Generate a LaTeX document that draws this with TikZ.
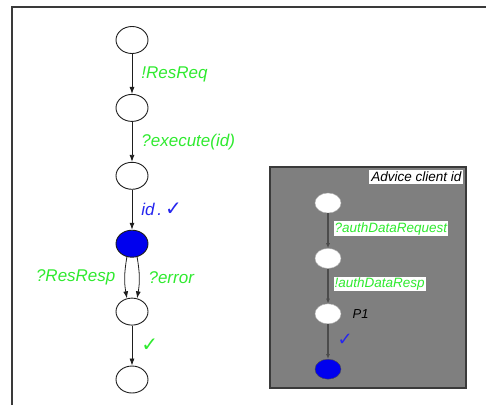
\documentclass[tikz,border=0pt]{standalone}
\usepackage{fontspec}
\setmainfont{Liberation Sans}
\newfontfamily\symfont{DejaVu Sans}
\usetikzlibrary{arrows.meta,positioning,shapes.geometric}
\definecolor{ink}{HTML}{1E1E1E}
\definecolor{act}{HTML}{2FEA2F}
\definecolor{tickblue}{HTML}{2626EE}
\definecolor{final}{HTML}{0000EE}
\definecolor{panelgray}{HTML}{7F7F7F}
\definecolor{frame}{HTML}{3A3A3A}
\newcommand{\chk}{{\symfont ✓}}
\tikzset{
  >=Latex,
  state/.style={ellipse,draw=ink,line width=0.9pt,fill=white,minimum width=32pt,minimum height=27pt,inner sep=0pt},
  donestate/.style={state,fill=final},
  substate/.style={ellipse,draw=panelgray!60,fill=white,minimum width=26pt,minimum height=20pt,inner sep=0pt},
  subdone/.style={substate,fill=final,draw=ink!80},
  arrow/.style={-{Latex[length=7pt,width=5pt]},line width=0.8pt,draw=ink},
  subarrow/.style={-{Latex[length=5pt,width=4pt]},line width=1.1pt,draw=ink!80},
  lbl/.style={font=\fontsize{17}{19}\selectfont\itshape,text=act,inner sep=1pt},
  sublbl/.style={font=\fontsize{13.5}{15}\selectfont\itshape,text=act,fill=white,inner sep=1pt},
  panel/.style={draw=frame,line width=1.2pt,fill=panelgray},
}

\begin{document}
\begin{tikzpicture}[x=1pt,y=-1pt,node distance=40pt]
\useasboundingbox (0,0) rectangle (486,405);
% open frame round the page
\draw[frame,line width=1.2pt] (12,405) -- (12,7) -- (486,7);

% main chain
\node[state] (s0) at (132,40) {};
\node[state,below=of s0] (s1) {};
\node[state,below=of s1] (s2) {};
\node[donestate,below=of s2] (s3) {};
\node[state,below=of s3] (s4) {};
\node[state,below=of s4] (s5) {};

\draw[arrow] (s0) -- node[lbl,right=8pt] {!ResReq} (s1);
\draw[arrow] (s1) -- node[lbl,right=8pt] {?execute(id)} (s2);
\draw[arrow] (s2) -- node[lbl,right=8pt,text=tickblue] {id\,.\,{\fontsize{20}{20}\selectfont\chk}} (s3);
\draw[arrow] (s3.-111) to[out=-100,in=100] node[lbl,left=8pt] {?ResResp} (s4.111);
\draw[arrow] (s3.-69) to[out=-80,in=80] node[lbl,right=8pt] {?error} (s4.69);
\draw[arrow] (s4) -- node[lbl,right=8pt,font=\fontsize{20}{20}\selectfont] {\chk} (s5);

% advice panel
\node[panel,minimum width=196pt,minimum height=221pt,inner sep=0pt] (adv) at (368,277.5) {};
\node[fill=white,inner xsep=2pt,inner ysep=2pt,font=\fontsize{13.5}{15}\selectfont\itshape,below left=3pt and 3pt of adv.north east] (title) {Advice client id};

\node[substate] (a0) at (328,203) {};
\node[substate,below=35pt of a0] (a1) {};
\node[substate,below=35pt of a1] (a2) {};
\node[subdone,below=35pt of a2] (a3) {};
\node[right=8pt of a2,font=\fontsize{13}{15}\selectfont\itshape,text=black] (p1) {P1};

\draw[subarrow] (a0) -- node[sublbl,right=5pt,yshift=2pt] {?authDataRequest} (a1);
\draw[subarrow] (a1) -- node[sublbl,right=5pt,yshift=2pt] {!authDataResp} (a2);
\draw[subarrow] (a2) -- node[right=9pt,yshift=2pt,text=tickblue,font=\fontsize{18}{18}\selectfont,inner sep=0pt] {\chk} (a3);
\end{tikzpicture}
\end{document}
